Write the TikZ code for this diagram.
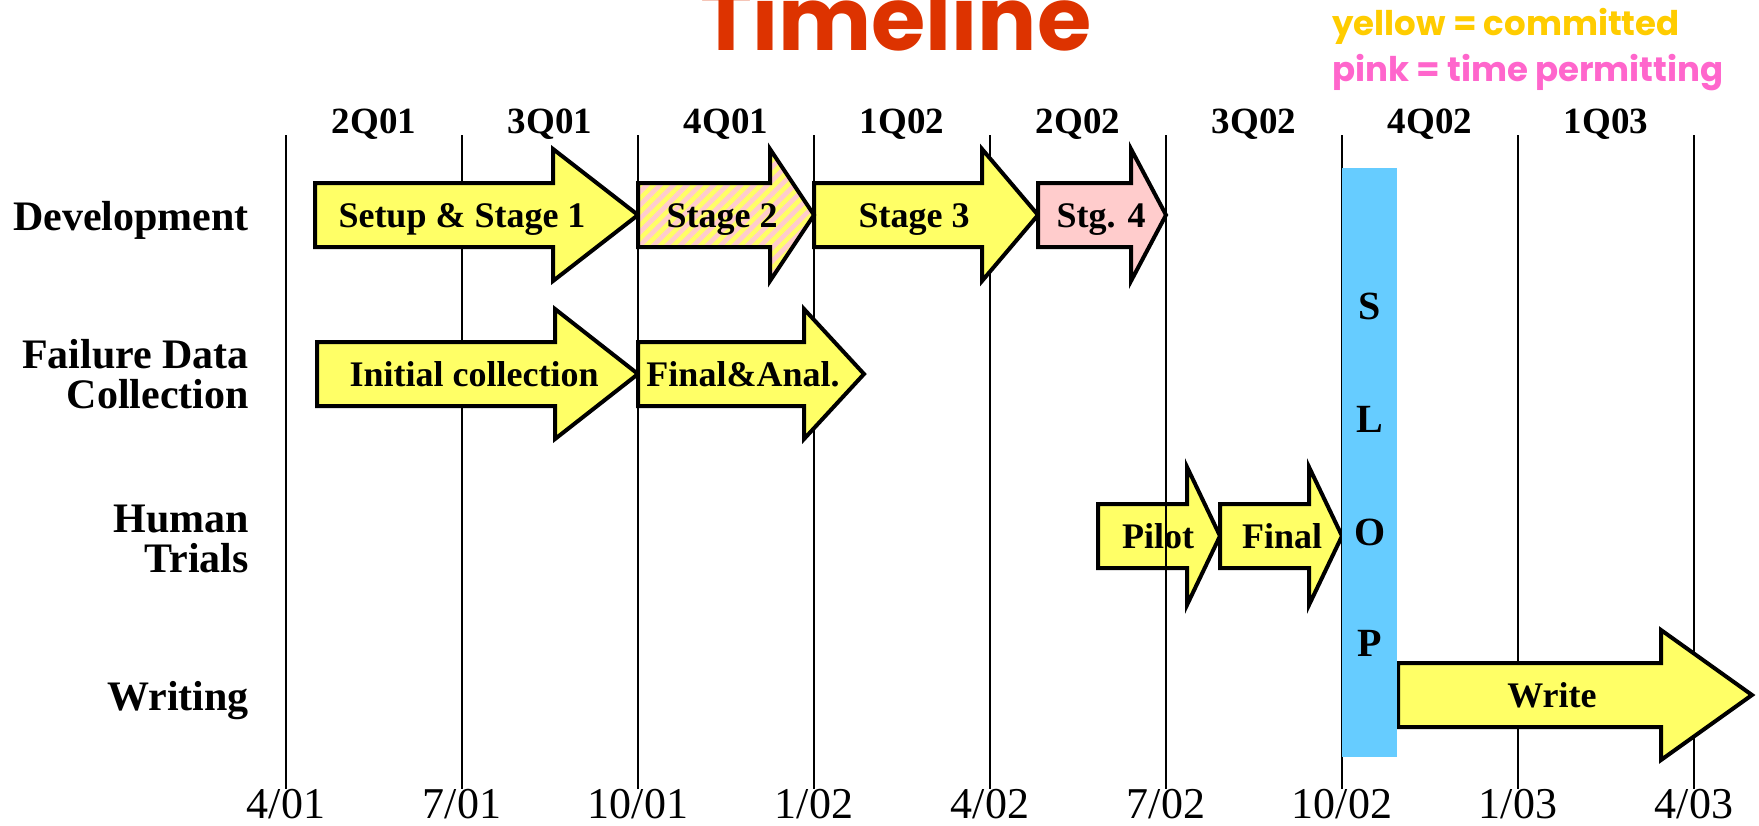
\documentclass[tikz,border=0pt]{standalone}
\usepackage{fontspec}
\setmainfont{Liberation Serif}
\newfontfamily\handfont{Poppins}
\usepackage{xcolor}
\definecolor{planYellow}{HTML}{FFFF66}
\definecolor{planPink}{HTML}{FFCCCC}
\definecolor{slopBlue}{HTML}{66CCFF}
\definecolor{titleRed}{HTML}{DD3300}
\definecolor{keyYellow}{HTML}{FFCC00}
\definecolor{keyPink}{HTML}{FF66CC}
\usepackage{tikz}
\usetikzlibrary{patterns.meta}

\tikzset{
  blockarrow/.style={draw=black, line width=4pt, line join=miter},
  committed/.style={blockarrow, fill=planYellow},
  optional/.style={blockarrow, fill=planPink},
  mixed/.style={blockarrow, preaction={fill=planPink},
    pattern={Lines[angle=45, distance=9.5pt, line width=4.5pt]}, pattern color=planYellow},
  arrowtext/.style={anchor=base, inner sep=0pt, font=\bfseries\fontsize{36}{36}\selectfont},
  rowtext/.style={anchor=base east, align=right, inner sep=0pt, font=\bfseries\fontsize{42}{40}\selectfont},
  quartertext/.style={anchor=base, inner sep=0pt, font=\bfseries\fontsize{37}{37}\selectfont},
  datetext/.style={anchor=base, inner sep=0pt, font=\fontsize{44}{44}\selectfont},
  sloptext/.style={anchor=base, inner sep=0pt, font=\bfseries\fontsize{40}{40}\selectfont},
  keytext/.style={anchor=base west, inner sep=0pt, font=\handfont\bfseries\fontsize{34}{34}\selectfont},
  gridline/.style={line width=1.5pt},
}

\begin{document}
\begin{tikzpicture}[x=1pt, y=-1pt]
  \useasboundingbox (0,0) rectangle (1759,825);
  % ---- title and key ----
  \node[anchor=base, text=titleRed, font=\handfont\bfseries\fontsize{88}{88}\selectfont] (title) at (896,50) {Timeline};
  \node[keytext, text=keyYellow] (keyA) at (1332,35) {yellow = committed};
  \node[keytext, text=keyPink] (keyB) at (1332,81) {pink = time permitting};
  % ---- pilot sits under the 7/02 line ----
  \draw[committed] (1098,504) -- (1187,504) -- (1187,467) -- (1220,536) -- (1187,605) -- (1187,568) -- (1098,568) -- cycle;
  \node[arrowtext] (pilot) at (1158,548) {Pilot};
  % ---- quarter grid ----
  \foreach \d [count=\i from 0] in {4/01,7/01,10/01,1/02,4/02,7/02,10/02,1/03,4/03} {
    \node[datetext] (date\i) at ({286+176*\i},818) {\d};
    \coordinate (top\i) at ({286+176*\i},135);
    \draw[gridline] (top\i) -- (date\i.north);
  }
  \foreach \q [count=\i from 0] in {2Q01,3Q01,4Q01,1Q02,2Q02,3Q02,4Q02,1Q03}
    \node[quartertext] (quarter\i) at ({374+176*\i},133) {\q};
  % ---- rows (base is the last line) ----
  \node[rowtext] (dev) at (249,230) {Development};
  \node[rowtext] (fail) at (249,408) {Failure Data\\Collection};
  \node[rowtext] (human) at (249,572) {Human\\Trials};
  \node[rowtext] (writing) at (249,710) {Writing};
  % ---- committed work ----
  \foreach \nm/\a/\h/\t/\y/\w/\lx/\txt in {
      setup/315/553/638/215/66/462/Setup \& Stage 1,
      stagethree/814/982/1038/215/66/914/Stage 3,
      initial/317/555/638/374/65/474/Initial collection,
      finalanal/638/804/864/374/65/743/Final\&Anal.,
      final/1220/1309/1342/536/69/1282/Final,
      write/1398/1661/1752/695/65/1552/Write} {
    \draw[committed] (\a,{\y-32}) -- (\h,{\y-32}) -- (\h,{\y-\w}) -- (\t,\y)
      -- (\h,{\y+\w}) -- (\h,{\y+32}) -- (\a,{\y+32}) -- cycle;
    \node[arrowtext] (\nm) at (\lx,{\y+12}) {\txt};
  }
  % ---- time permitting ----
  \draw[mixed] (638,183) -- (770,183) -- (770,149) -- (814,215) -- (770,281) -- (770,247) -- (638,247) -- cycle;
  \node[arrowtext] (stagetwo) at (722,227) {Stage 2};
  \draw[optional] (1038,183) -- (1131,183) -- (1131,149) -- (1166,215) -- (1131,281) -- (1131,247) -- (1038,247) -- cycle;
  \node[arrowtext] (stagefour) at (1101,227) {Stg. 4};
  % ---- slop ----
  \fill[slopBlue] (1342,168) rectangle (1397,757);
  \foreach \c/\b in {S/319,L/432,O/545,P/656}
    \node[sloptext] (slop\c) at (1370,\b) {\c};
\end{tikzpicture}
\end{document}
